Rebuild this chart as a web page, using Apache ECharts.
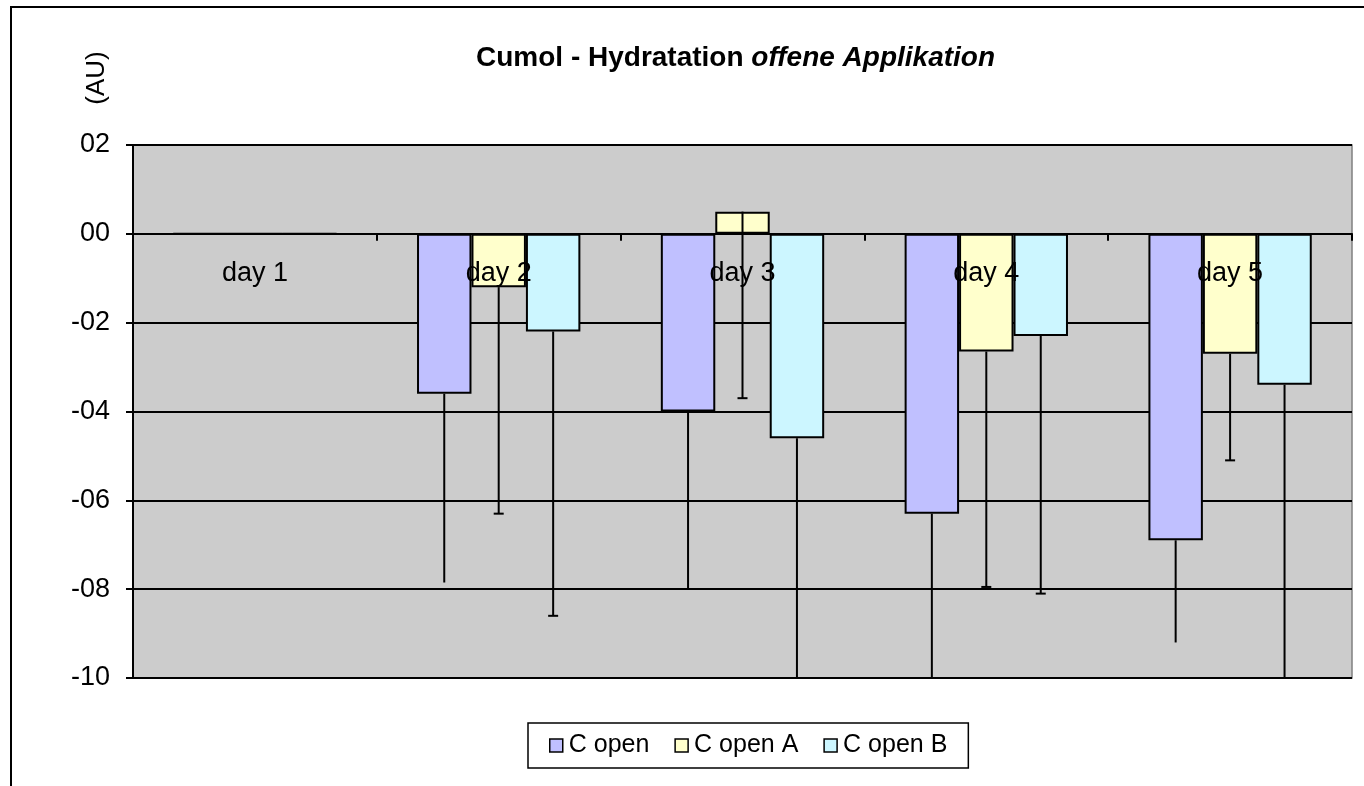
<!DOCTYPE html>
<html>
<head>
<meta charset="utf-8">
<script src="https://cdn.jsdelivr.net/npm/echarts@6/dist/echarts.min.js"></script>
<style>
  html, body { margin: 0; padding: 0; background: #fff; }
  #chart { width: 1364px; height: 786px; }
</style>
</head>
<body>
<div id="chart"></div>
<script>
// categories and series
var days = ['day 1', 'day 2', 'day 3', 'day 4', 'day 5'];
var seriesNames = ['C open', 'C open A', 'C open B'];
var cOpen  = [0, -3.6, -4.0, -6.3, -6.9];
var cOpenA = [0, -1.2, 0.5, -2.65, -2.7];
var cOpenB = [0, -2.2, -4.6, -2.3, -3.4];
// lower ends of the (minus-only) error bars
var cOpenLow  = [null, -7.85, -8.0, -11.0, -9.2];
var cOpenALow = [null, -6.3, -3.7, -7.95, -5.1];
var cOpenBLow = [null, -8.6, -11.0, -8.1, -11.0];
var yTicks = [-10, -8, -6, -4, -2, 0, 2];

var colors = ['#c0c0ff', '#ffffcc', '#ccf6ff'];
var gapRatio = 0.33;
var font = 'Liberation Sans, Arial, sans-serif';

function fmtTick(v) {
	var a = Math.abs(v);
	var s = a < 10 ? '0' + a : '' + a;
	return (v < 0 ? '-' : '') + s;
}

function errSeries(idx, vals, lows, cap) {
	var data = [];
	for (var i = 0; i < vals.length; i++) {
		if (lows[i] !== null) data.push([i, vals[i], lows[i]]);
	}
	return {
		type: 'custom',
		name: seriesNames[idx] + ' err',
		clip: true,
		z: 5,
		encode: { x: 0, y: [1, 2] },
		data: data,
		renderItem: function (params, api) {
			var catW = api.size([1, 0])[0];
			var barW = catW * (1 - gapRatio) / 3;
			var top = api.coord([api.value(0), api.value(1)]);
			var bot = api.coord([api.value(0), api.value(2)]);
			var x = top[0] + (idx - 1) * barW;
			var children = [{
				type: 'line',
				shape: { x1: x, y1: top[1], x2: x, y2: bot[1] },
				style: { stroke: '#000', lineWidth: 2 }
			}];
			if (cap) {
				children.push({
					type: 'line',
					shape: { x1: x - 5, y1: bot[1], x2: x + 5, y2: bot[1] },
					style: { stroke: '#000', lineWidth: 2 }
				});
			}
			return { type: 'group', children: children };
		}
	};
}

function barSeries(idx, vals) {
	return {
		type: 'bar',
		name: seriesNames[idx],
		data: vals,
		barGap: '0%',
		barCategoryGap: (gapRatio * 100) + '%',
		itemStyle: { color: colors[idx], borderColor: '#000', borderWidth: 2 },
		z: 3
	};
}

var chart = echarts.init(document.getElementById('chart'));
var option = {
	animation: false,
	backgroundColor: '#fff',
	textStyle: { fontFamily: font, color: '#000' },
	title: {
		left: 471,
		top: 39,
		text: '{b|Cumol - Hydratation }{i|offene Applikation}',
		textStyle: {
			rich: {
				b: { fontSize: 28, fontWeight: 'bold', color: '#000', fontFamily: font },
				i: { fontSize: 28, fontWeight: 'bold', fontStyle: 'italic', color: '#000', fontFamily: font }
			}
		}
	},
	graphic: [
		{
			type: 'rect',
			shape: { x: 11, y: 7, width: 1500, height: 900 },
			style: { fill: 'none', stroke: '#000', lineWidth: 2 },
			silent: true
		},
		{
			type: 'text',
			x: 97,
			y: 78,
			rotation: Math.PI / 2,
			style: {
				text: '(AU)',
				fontSize: 26,
				fontFamily: font,
				fill: '#000',
				align: 'center',
				verticalAlign: 'middle'
			}
		}
	],
	legend: {
		data: seriesNames,
		left: 528,
		top: 723,
		orient: 'horizontal',
		padding: [10, 21, 10, 21],
		itemGap: 25,
		itemWidth: 13,
		itemHeight: 13,
		icon: 'rect',
		borderColor: '#000',
		borderWidth: 1.5,
		itemStyle: { borderColor: '#000', borderWidth: 1.5 },
		textStyle: { fontSize: 25, color: '#000', padding: [0, 0, 0, 1] }
	},
	grid: {
		left: 133,
		right: 12,
		top: 145,
		bottom: 108,
		show: true,
		backgroundColor: '#cccccc',
		borderColor: '#808080',
		borderWidth: 1.5
	},
	xAxis: {
		type: 'category',
		data: days,
		z: 10,
		axisLine: { onZero: true, lineStyle: { color: '#000', width: 2 } },
		axisTick: { show: true, length: 7, lineStyle: { color: '#000', width: 2 } },
		axisLabel: { fontSize: 27, color: '#000', margin: -418 },
		splitLine: { show: false }
	},
	yAxis: {
		type: 'value',
		min: -10,
		max: 2,
		interval: 2,
		axisLine: { show: true, onZero: false, lineStyle: { color: '#000', width: 2 } },
		axisTick: { show: true, length: 7, lineStyle: { color: '#000', width: 2 } },
		axisLabel: {
			fontSize: 27,
			color: '#000',
			margin: 23,
			formatter: function (v) {
				return yTicks.indexOf(v) >= 0 ? fmtTick(v) : '';
			}
		},
		splitLine: { show: true, lineStyle: { color: '#000', width: 2 } }
	},
	series: [
		barSeries(0, cOpen),
		barSeries(1, cOpenA),
		barSeries(2, cOpenB),
		errSeries(0, cOpen, cOpenLow, false),
		errSeries(1, cOpenA, cOpenALow, true),
		errSeries(2, cOpenB, cOpenBLow, true)
	]
};
chart.setOption(option);
</script>
</body>
</html>
